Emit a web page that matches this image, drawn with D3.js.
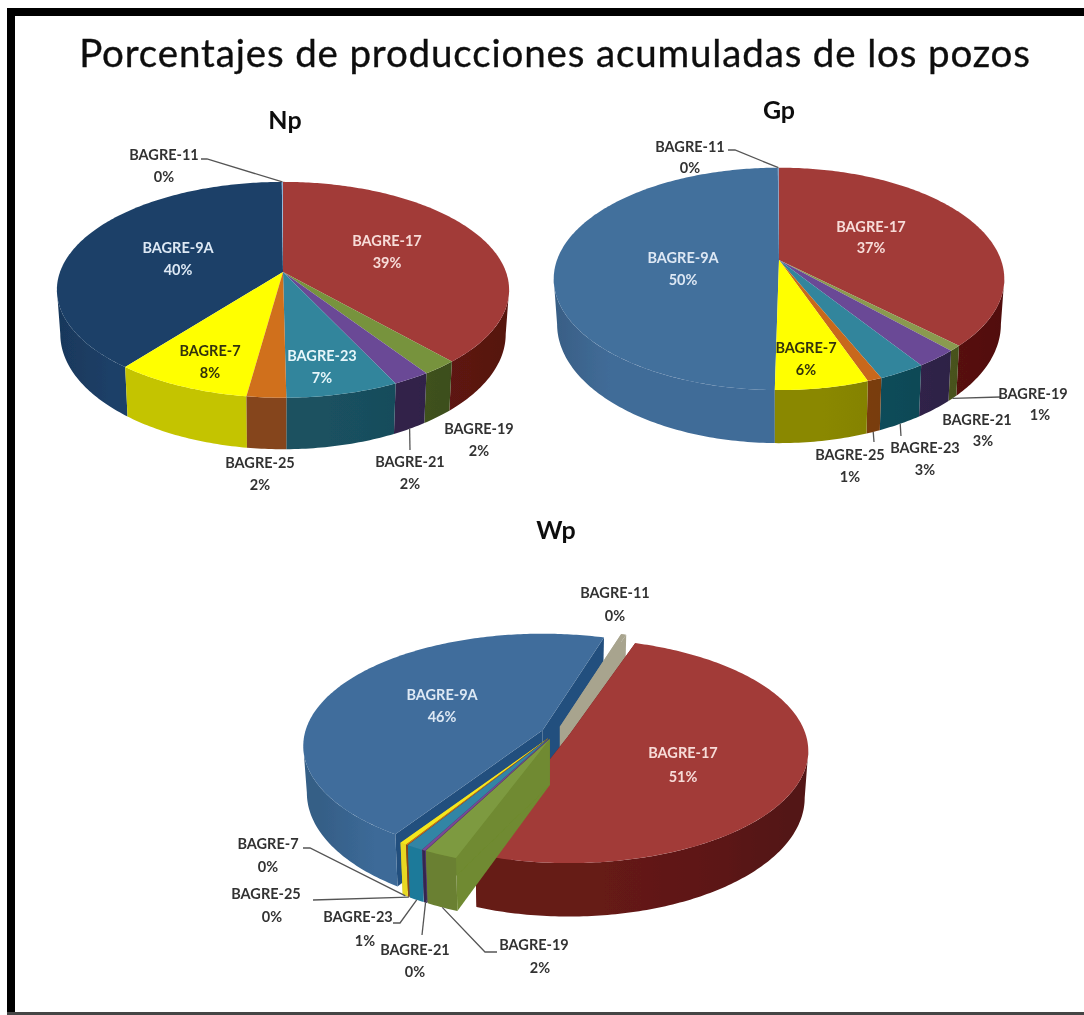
<!DOCTYPE html>
<html><head><meta charset="utf-8">
<script src="https://cdn.jsdelivr.net/npm/d3@7"></script>
<style>html,body{margin:0;padding:0;background:#fff;overflow:hidden}svg{display:block}text{font-family:Lato,"Open Sans",sans-serif}</style>
</head><body><svg id="c" width="1084" height="1015"></svg>
<script>
// ---- data ----
const categories = ["BAGRE-17","BAGRE-19","BAGRE-21","BAGRE-23","BAGRE-25","BAGRE-7","BAGRE-9A","BAGRE-11"];
const npValues = [38.6,2.2,2.3,6.9,2.4,8.4,39.5,0.1];
const gpValues = [37.3,0.8,2.6,2.9,0.9,5.7,49.6,0.1];
const wpValues = [51,2,0.2,1,0.1,0.4,46,0.4];
const titleText = "Porcentajes de producciones acumuladas de los pozos";

// ---- colours ----
const npTop  = ["#a23b39","#77933c","#6b4a96","#31859c","#d0701f","#ffff00","#1b4068","#8fb4d8"];
const npWall = ["#6a1714","#45591f","#34264f","#1a5161","#85451a","#c4c400","#1c4068","#1c4068"];
const gpTop  = ["#a23b39","#8a9a50","#6b4a96","#31859c","#c8681c","#ffff00","#426f9c","#8fa0c0"];
const gpWall = ["#641410","#525e22","#34264f","#12505f","#7f4010","#8a8800","#416c98","#416c98"];
const wpTop  = ["#a23b39","#7d9a40","#7a4a96","#3385a5","#d0701f","#f5e61e","#3f6d9c","#a8a48e"];
const wpWall = ["#661a18","#6a8030","#34264f","#1f7a9a","#85451a","#e8d820","#3c6a98","#a09c88"];
const wpCut  = ["#6a1714","#6f8a30","#5a3a76","#276f8a","#85451a","#c8bc20","#24507e","#a8a48e"];

// ---- layout ----
const npGeom = {cx:283,cy:272,rx:223,ry:105,p:.165,depth:43,shrink:.985,rot:0,explode:0,tx:285,ty:129};
const gpGeom = {cx:779,cy:260,rx:222,ry:108,p:.17,depth:44,shrink:.985,rot:0,explode:0,tx:779,ty:119};
const wpGeom = {cx:555.5,cy:733,rx:237,ry:110,p:.14,depth:46,shrink:.985,rot:18.5,explode:.06,tx:556,ty:539};
const npLabels = [[387,241,387,263,"#f7dcd8"],[479,429,479,451],[410,462,410,484],[322,356,322,378,"#e6f6fa"],[260,463,260,485],[210,351,210,373,"#33330a"],[178,248,178,270,"#dde8f4"],[164,155,164,177]];
const gpLabels = [[871,227,871,248,"#f7dcd8"],[1033,394,1040,415],[977,420,983,441],[925,448,925,470],[850,455,850,477],[806,348,806,370,"#33330a"],[683,258,683,280,"#dde8f4"],[690,147,690,168]];
const wpLabels = [[683,753,683,777,"#f7dcd8"],[534,945,540,968],[415,950,415,972],[358,917,365,941],[266,894,272,917],[268,844,268,867],[442,695,442,717,"#dde8f4"],[615,593,615,616]];
// leaders: [category index, rim level (0 top, 1 bottom), label-side points]
const npLeaders = [[7,0,[[201,159],[207,159]]],[2,1,[[410,450]]]];
const gpLeaders = [[7,0,[[728,150],[735,150]]],[1,1,[[1000,397]]],[4,1,[[874,442]]],[3,1,[[901,436]]]];
const wpLeaders = [[5,1,[[303,848],[310,848]]],[4,1,[[313,900]]],[3,1,[[393,923],[400,923]]],[2,1,[[422,935]]],[1,1,[[497,952],[485,952]]]];

const svg = d3.select("#c"), defs = svg.append("defs");
defs.append("filter").attr("id","soft").attr("filterUnits","userSpaceOnUse").attr("x",0).attr("y",0).attr("width",1084).attr("height",1015)
  .append("feGaussianBlur").attr("stdDeviation",.55);
const root = svg.append("g").attr("filter","url(#soft)");
root.append("rect").attr("width",1084).attr("height",1015).attr("fill","#fff");
// frame
const frame = root.append("g").attr("fill","#000");
frame.append("rect").attr("x",7).attr("y",8).attr("width",1077).attr("height",8);
frame.append("rect").attr("x",7).attr("y",8).attr("width",8).attr("height",1005);
frame.append("rect").attr("x",7).attr("y",1012).attr("width",1077).attr("height",3).attr("fill","#444");

root.append("text").attr("x",555).attr("y",67).attr("text-anchor","middle").attr("font-size",38.5)
  .attr("letter-spacing",.85).attr("fill","#111").attr("stroke","#111").attr("stroke-width",.35).text(titleText);

const rad = d3.scaleLinear().domain([0,360]).range([0,2*Math.PI]);
const line = d3.line();
let gid = 0;

function drawPie(name, values, g, tops, walls, cuts, labels, leaders){
  const layer = root.append("g").attr("class","pie-"+name);
  root.append("text").attr("x",g.tx).attr("y",g.ty).attr("text-anchor","middle").attr("font-size",25)
    .attr("font-weight",700).attr("fill","#111").text(name);
  const start = rad(g.rot);
  const arcs = d3.pie().sort(null).startAngle(start).endAngle(start+2*Math.PI)(values);
  const tan = Math.acos(-g.p);
  function proj(a, off, level, r=1){
    const u=Math.sin(a)*r, v=-Math.cos(a)*r, w=1-g.p*v;
    let x=g.rx*u/w, y=g.ry*v/w;
    if(level){ x*=g.shrink; y+=g.depth/w; }
    return [g.cx+x+off[0], g.cy+y+off[1]];
  }
  function samples(a0,a1){
    const n=Math.max(2,Math.ceil((a1-a0)/0.015));
    return d3.range(n+1).map(i=>a0+(a1-a0)*i/n);
  }
  const items = arcs.map(d=>{
    const mid=(d.startAngle+d.endAngle)/2;
    return {d,i:d.index,mid,off:[g.explode*g.rx*Math.sin(mid), -g.explode*g.ry*Math.cos(mid)]};
  });
  // back to front; the 0% BAGRE-11 slice sits in front of its big neighbour
  const depthKey = it => it.i===7 ? -0.3 : -Math.cos(it.mid);
  const order = items.slice().sort((a,b)=>depthKey(a)-depthKey(b));
  const wallFill = i=>{
    const id="w"+(gid++), c=d3.color(walls[i]);
    const gr=defs.append("linearGradient").attr("id",id).attr("gradientUnits","userSpaceOnUse")
      .attr("x1",g.cx-g.rx).attr("x2",g.cx+g.rx).attr("y1",0).attr("y2",0);
    [[0,c.darker(.35)],[.12,c],[.6,c],[.85,c.darker(.3)],[1,c.darker(.6)]].forEach(s=>gr.append("stop").attr("offset",s[0]).attr("stop-color",s[1]));
    return `url(#${id})`;
  };
  order.forEach(it=>{
    const {d,i,off}=it, gr=layer.append("g").attr("class","slice").datum(d);
    // cut faces for exploded pies
    if(g.explode>0){
      [d.startAngle,d.endAngle].forEach(a=>{
        const poly=[proj(a,off,0,0),proj(a,off,0),proj(a,off,1),proj(a,off,1,0)];
        gr.append("path").attr("d",line(poly)+"Z").attr("fill",cuts[i]);
      });
    }
    // outer wall, front half only
    [[tan,2*Math.PI-tan],[tan+2*Math.PI,4*Math.PI-tan]].forEach(([lo,hi])=>{
      const a0=Math.max(d.startAngle,lo), a1=Math.min(d.endAngle,hi);
      if(a1<=a0) return;
      const as=samples(a0,a1);
      const poly=as.map(a=>proj(a,off,0)).concat(as.slice().reverse().map(a=>proj(a,off,1)));
      gr.append("path").attr("d",line(poly)+"Z").attr("fill",wallFill(i));
    });
    const poly=[proj(0,off,0,0)].concat(samples(d.startAngle,d.endAngle).map(a=>proj(a,off,0)));
    gr.append("path").attr("d",line(poly)+"Z").attr("fill",tops[i]);
  });
  // leaders
  leaders.forEach(([i,level,pts])=>{
    const it=items[i], end=proj(it.mid,it.off,level);
    layer.append("path").attr("d",line(pts.concat([end]))).attr("fill","none").attr("stroke","#555").attr("stroke-width",1.3);
  });
  // labels
  categories.forEach((c,i)=>{
    const L=labels[i], col=L[4]||"#333";
    const t=root.append("g").attr("font-size",14.5).attr("font-weight",700).attr("text-anchor","middle").attr("fill",col);
    t.append("text").attr("x",L[0]).attr("y",L[1]+5).text(c);
    t.append("text").attr("x",L[2]).attr("y",L[3]+5).text(Math.round(values[i])+"%");
  });
}
drawPie("Np",npValues,npGeom,npTop,npWall,npWall,npLabels,npLeaders);
drawPie("Gp",gpValues,gpGeom,gpTop,gpWall,gpWall,gpLabels,gpLeaders);
drawPie("Wp",wpValues,wpGeom,wpTop,wpWall,wpCut,wpLabels,wpLeaders);
</script></body></html>
